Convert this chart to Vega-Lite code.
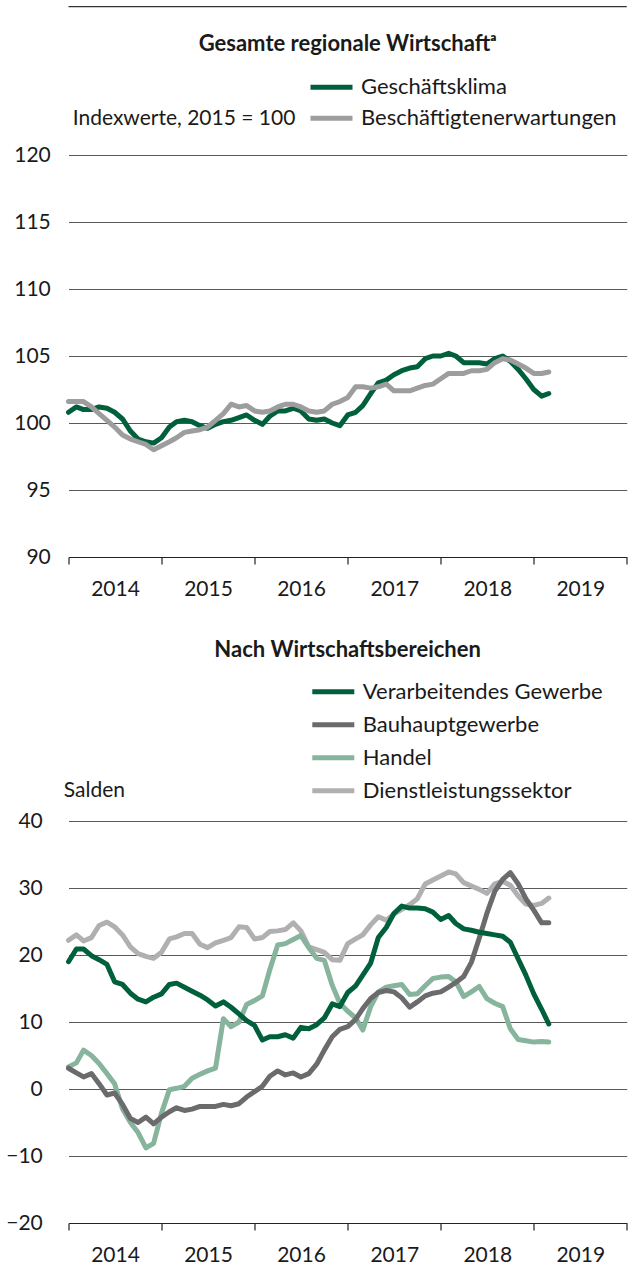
{
  "$schema": "https://vega.github.io/schema/vega-lite/v6.json",
  "background": "white",
  "padding": {"left": 5.5, "top": 6, "right": 0, "bottom": 0},
  "spacing": 40,
  "columns": 1,
  "align": "none",
  "resolve": {"scale": {"color": "independent"}, "legend": {"color": "independent"}},
  "config": {
    "font": "Lato",
    "view": {"stroke": null},
    "axis": {"labelFont": "Lato", "labelFontSize": 21, "labelColor": "#1a1a1a", "titleFont": "Lato", "titleFontSize": 21, "titleColor": "#1a1a1a", "titleFontWeight": "normal"},
    "legend": {"labelFont": "Lato", "labelFontSize": 22, "labelColor": "#1a1a1a", "labelLimit": 500, "symbolType": "stroke", "symbolStrokeWidth": 5, "symbolSize": 1764, "labelOffset": 6, "padding": 0, "rowPadding": 0},
    "title": {"font": "Lato", "fontSize": 22, "fontWeight": "bold", "color": "#1a1a1a"},
    "line": {"strokeWidth": 5, "strokeCap": "round", "strokeJoin": "round"}
  },
  "datasets": {
    "top": [
      {"date":"2014-01","series":"Geschäftsklima","value":100.8},{"date":"2014-02","series":"Geschäftsklima","value":101.2},{"date":"2014-03","series":"Geschäftsklima","value":101.0},{"date":"2014-04","series":"Geschäftsklima","value":101.0},{"date":"2014-05","series":"Geschäftsklima","value":101.2},{"date":"2014-06","series":"Geschäftsklima","value":101.1},{"date":"2014-07","series":"Geschäftsklima","value":100.8},{"date":"2014-08","series":"Geschäftsklima","value":100.3},{"date":"2014-09","series":"Geschäftsklima","value":99.4},{"date":"2014-10","series":"Geschäftsklima","value":98.8},{"date":"2014-11","series":"Geschäftsklima","value":98.6},{"date":"2014-12","series":"Geschäftsklima","value":98.5},
      {"date":"2015-01","series":"Geschäftsklima","value":98.9},{"date":"2015-02","series":"Geschäftsklima","value":99.7},{"date":"2015-03","series":"Geschäftsklima","value":100.1},{"date":"2015-04","series":"Geschäftsklima","value":100.2},{"date":"2015-05","series":"Geschäftsklima","value":100.1},{"date":"2015-06","series":"Geschäftsklima","value":99.8},{"date":"2015-07","series":"Geschäftsklima","value":99.6},{"date":"2015-08","series":"Geschäftsklima","value":99.9},{"date":"2015-09","series":"Geschäftsklima","value":100.1},{"date":"2015-10","series":"Geschäftsklima","value":100.2},{"date":"2015-11","series":"Geschäftsklima","value":100.4},{"date":"2015-12","series":"Geschäftsklima","value":100.6},
      {"date":"2016-01","series":"Geschäftsklima","value":100.2},{"date":"2016-02","series":"Geschäftsklima","value":99.9},{"date":"2016-03","series":"Geschäftsklima","value":100.5},{"date":"2016-04","series":"Geschäftsklima","value":100.9},{"date":"2016-05","series":"Geschäftsklima","value":100.9},{"date":"2016-06","series":"Geschäftsklima","value":101.1},{"date":"2016-07","series":"Geschäftsklima","value":100.9},{"date":"2016-08","series":"Geschäftsklima","value":100.3},{"date":"2016-09","series":"Geschäftsklima","value":100.2},{"date":"2016-10","series":"Geschäftsklima","value":100.3},{"date":"2016-11","series":"Geschäftsklima","value":100.0},{"date":"2016-12","series":"Geschäftsklima","value":99.8},
      {"date":"2017-01","series":"Geschäftsklima","value":100.6},{"date":"2017-02","series":"Geschäftsklima","value":100.8},{"date":"2017-03","series":"Geschäftsklima","value":101.3},{"date":"2017-04","series":"Geschäftsklima","value":102.2},{"date":"2017-05","series":"Geschäftsklima","value":103.0},{"date":"2017-06","series":"Geschäftsklima","value":103.2},{"date":"2017-07","series":"Geschäftsklima","value":103.6},{"date":"2017-08","series":"Geschäftsklima","value":103.9},{"date":"2017-09","series":"Geschäftsklima","value":104.1},{"date":"2017-10","series":"Geschäftsklima","value":104.2},{"date":"2017-11","series":"Geschäftsklima","value":104.8},{"date":"2017-12","series":"Geschäftsklima","value":105.0},
      {"date":"2018-01","series":"Geschäftsklima","value":105.0},{"date":"2018-02","series":"Geschäftsklima","value":105.2},{"date":"2018-03","series":"Geschäftsklima","value":105.0},{"date":"2018-04","series":"Geschäftsklima","value":104.5},{"date":"2018-05","series":"Geschäftsklima","value":104.5},{"date":"2018-06","series":"Geschäftsklima","value":104.5},{"date":"2018-07","series":"Geschäftsklima","value":104.4},{"date":"2018-08","series":"Geschäftsklima","value":104.8},{"date":"2018-09","series":"Geschäftsklima","value":105.0},{"date":"2018-10","series":"Geschäftsklima","value":104.6},{"date":"2018-11","series":"Geschäftsklima","value":104.0},{"date":"2018-12","series":"Geschäftsklima","value":103.3},
      {"date":"2019-01","series":"Geschäftsklima","value":102.5},{"date":"2019-02","series":"Geschäftsklima","value":102.0},{"date":"2019-03","series":"Geschäftsklima","value":102.2},
      {"date":"2014-01","series":"Beschäftigtenerwartungen","value":101.6},{"date":"2014-02","series":"Beschäftigtenerwartungen","value":101.6},{"date":"2014-03","series":"Beschäftigtenerwartungen","value":101.6},{"date":"2014-04","series":"Beschäftigtenerwartungen","value":101.2},{"date":"2014-05","series":"Beschäftigtenerwartungen","value":100.7},{"date":"2014-06","series":"Beschäftigtenerwartungen","value":100.2},{"date":"2014-07","series":"Beschäftigtenerwartungen","value":99.7},{"date":"2014-08","series":"Beschäftigtenerwartungen","value":99.1},{"date":"2014-09","series":"Beschäftigtenerwartungen","value":98.8},{"date":"2014-10","series":"Beschäftigtenerwartungen","value":98.6},{"date":"2014-11","series":"Beschäftigtenerwartungen","value":98.4},{"date":"2014-12","series":"Beschäftigtenerwartungen","value":98.0},
      {"date":"2015-01","series":"Beschäftigtenerwartungen","value":98.3},{"date":"2015-02","series":"Beschäftigtenerwartungen","value":98.6},{"date":"2015-03","series":"Beschäftigtenerwartungen","value":98.9},{"date":"2015-04","series":"Beschäftigtenerwartungen","value":99.3},{"date":"2015-05","series":"Beschäftigtenerwartungen","value":99.4},{"date":"2015-06","series":"Beschäftigtenerwartungen","value":99.5},{"date":"2015-07","series":"Beschäftigtenerwartungen","value":99.7},{"date":"2015-08","series":"Beschäftigtenerwartungen","value":100.2},{"date":"2015-09","series":"Beschäftigtenerwartungen","value":100.7},{"date":"2015-10","series":"Beschäftigtenerwartungen","value":101.4},{"date":"2015-11","series":"Beschäftigtenerwartungen","value":101.2},{"date":"2015-12","series":"Beschäftigtenerwartungen","value":101.3},
      {"date":"2016-01","series":"Beschäftigtenerwartungen","value":100.9},{"date":"2016-02","series":"Beschäftigtenerwartungen","value":100.8},{"date":"2016-03","series":"Beschäftigtenerwartungen","value":100.9},{"date":"2016-04","series":"Beschäftigtenerwartungen","value":101.2},{"date":"2016-05","series":"Beschäftigtenerwartungen","value":101.4},{"date":"2016-06","series":"Beschäftigtenerwartungen","value":101.4},{"date":"2016-07","series":"Beschäftigtenerwartungen","value":101.2},{"date":"2016-08","series":"Beschäftigtenerwartungen","value":100.9},{"date":"2016-09","series":"Beschäftigtenerwartungen","value":100.8},{"date":"2016-10","series":"Beschäftigtenerwartungen","value":100.9},{"date":"2016-11","series":"Beschäftigtenerwartungen","value":101.4},{"date":"2016-12","series":"Beschäftigtenerwartungen","value":101.6},
      {"date":"2017-01","series":"Beschäftigtenerwartungen","value":101.9},{"date":"2017-02","series":"Beschäftigtenerwartungen","value":102.7},{"date":"2017-03","series":"Beschäftigtenerwartungen","value":102.7},{"date":"2017-04","series":"Beschäftigtenerwartungen","value":102.6},{"date":"2017-05","series":"Beschäftigtenerwartungen","value":102.7},{"date":"2017-06","series":"Beschäftigtenerwartungen","value":102.9},{"date":"2017-07","series":"Beschäftigtenerwartungen","value":102.4},{"date":"2017-08","series":"Beschäftigtenerwartungen","value":102.4},{"date":"2017-09","series":"Beschäftigtenerwartungen","value":102.4},{"date":"2017-10","series":"Beschäftigtenerwartungen","value":102.6},{"date":"2017-11","series":"Beschäftigtenerwartungen","value":102.8},{"date":"2017-12","series":"Beschäftigtenerwartungen","value":102.9},
      {"date":"2018-01","series":"Beschäftigtenerwartungen","value":103.3},{"date":"2018-02","series":"Beschäftigtenerwartungen","value":103.7},{"date":"2018-03","series":"Beschäftigtenerwartungen","value":103.7},{"date":"2018-04","series":"Beschäftigtenerwartungen","value":103.7},{"date":"2018-05","series":"Beschäftigtenerwartungen","value":103.9},{"date":"2018-06","series":"Beschäftigtenerwartungen","value":103.9},{"date":"2018-07","series":"Beschäftigtenerwartungen","value":104.0},{"date":"2018-08","series":"Beschäftigtenerwartungen","value":104.5},{"date":"2018-09","series":"Beschäftigtenerwartungen","value":104.8},{"date":"2018-10","series":"Beschäftigtenerwartungen","value":104.7},{"date":"2018-11","series":"Beschäftigtenerwartungen","value":104.4},{"date":"2018-12","series":"Beschäftigtenerwartungen","value":104.1},
      {"date":"2019-01","series":"Beschäftigtenerwartungen","value":103.7},{"date":"2019-02","series":"Beschäftigtenerwartungen","value":103.7},{"date":"2019-03","series":"Beschäftigtenerwartungen","value":103.8}
    ],
    "bottom": [
      {"date":"2014-01","series":"Dienstleistungssektor","value":22.2},{"date":"2014-02","series":"Dienstleistungssektor","value":23.0},{"date":"2014-03","series":"Dienstleistungssektor","value":22.1},{"date":"2014-04","series":"Dienstleistungssektor","value":22.6},{"date":"2014-05","series":"Dienstleistungssektor","value":24.4},{"date":"2014-06","series":"Dienstleistungssektor","value":24.9},{"date":"2014-07","series":"Dienstleistungssektor","value":24.2},{"date":"2014-08","series":"Dienstleistungssektor","value":23.0},{"date":"2014-09","series":"Dienstleistungssektor","value":21.2},{"date":"2014-10","series":"Dienstleistungssektor","value":20.2},{"date":"2014-11","series":"Dienstleistungssektor","value":19.8},{"date":"2014-12","series":"Dienstleistungssektor","value":19.5},
      {"date":"2015-01","series":"Dienstleistungssektor","value":20.4},{"date":"2015-02","series":"Dienstleistungssektor","value":22.4},{"date":"2015-03","series":"Dienstleistungssektor","value":22.7},{"date":"2015-04","series":"Dienstleistungssektor","value":23.2},{"date":"2015-05","series":"Dienstleistungssektor","value":23.2},{"date":"2015-06","series":"Dienstleistungssektor","value":21.6},{"date":"2015-07","series":"Dienstleistungssektor","value":21.1},{"date":"2015-08","series":"Dienstleistungssektor","value":21.8},{"date":"2015-09","series":"Dienstleistungssektor","value":22.2},{"date":"2015-10","series":"Dienstleistungssektor","value":22.6},{"date":"2015-11","series":"Dienstleistungssektor","value":24.2},{"date":"2015-12","series":"Dienstleistungssektor","value":24.1},
      {"date":"2016-01","series":"Dienstleistungssektor","value":22.4},{"date":"2016-02","series":"Dienstleistungssektor","value":22.6},{"date":"2016-03","series":"Dienstleistungssektor","value":23.5},{"date":"2016-04","series":"Dienstleistungssektor","value":23.6},{"date":"2016-05","series":"Dienstleistungssektor","value":23.8},{"date":"2016-06","series":"Dienstleistungssektor","value":24.8},{"date":"2016-07","series":"Dienstleistungssektor","value":23.6},{"date":"2016-08","series":"Dienstleistungssektor","value":21.2},{"date":"2016-09","series":"Dienstleistungssektor","value":20.8},{"date":"2016-10","series":"Dienstleistungssektor","value":20.4},{"date":"2016-11","series":"Dienstleistungssektor","value":19.3},{"date":"2016-12","series":"Dienstleistungssektor","value":19.2},
      {"date":"2017-01","series":"Dienstleistungssektor","value":21.7},{"date":"2017-02","series":"Dienstleistungssektor","value":22.4},{"date":"2017-03","series":"Dienstleistungssektor","value":23.0},{"date":"2017-04","series":"Dienstleistungssektor","value":24.5},{"date":"2017-05","series":"Dienstleistungssektor","value":25.7},{"date":"2017-06","series":"Dienstleistungssektor","value":25.2},{"date":"2017-07","series":"Dienstleistungssektor","value":26.1},{"date":"2017-08","series":"Dienstleistungssektor","value":26.8},{"date":"2017-09","series":"Dienstleistungssektor","value":27.5},{"date":"2017-10","series":"Dienstleistungssektor","value":28.4},{"date":"2017-11","series":"Dienstleistungssektor","value":30.6},{"date":"2017-12","series":"Dienstleistungssektor","value":31.2},
      {"date":"2018-01","series":"Dienstleistungssektor","value":31.8},{"date":"2018-02","series":"Dienstleistungssektor","value":32.4},{"date":"2018-03","series":"Dienstleistungssektor","value":32.1},{"date":"2018-04","series":"Dienstleistungssektor","value":30.8},{"date":"2018-05","series":"Dienstleistungssektor","value":30.3},{"date":"2018-06","series":"Dienstleistungssektor","value":29.8},{"date":"2018-07","series":"Dienstleistungssektor","value":29.2},{"date":"2018-08","series":"Dienstleistungssektor","value":30.6},{"date":"2018-09","series":"Dienstleistungssektor","value":31.0},{"date":"2018-10","series":"Dienstleistungssektor","value":30.4},{"date":"2018-11","series":"Dienstleistungssektor","value":28.8},{"date":"2018-12","series":"Dienstleistungssektor","value":27.6},
      {"date":"2019-01","series":"Dienstleistungssektor","value":27.4},{"date":"2019-02","series":"Dienstleistungssektor","value":27.7},{"date":"2019-03","series":"Dienstleistungssektor","value":28.5},
      {"date":"2014-01","series":"Handel","value":3.3},{"date":"2014-02","series":"Handel","value":3.9},{"date":"2014-03","series":"Handel","value":5.8},{"date":"2014-04","series":"Handel","value":5.0},{"date":"2014-05","series":"Handel","value":3.8},{"date":"2014-06","series":"Handel","value":2.3},{"date":"2014-07","series":"Handel","value":0.8},{"date":"2014-08","series":"Handel","value":-3.0},{"date":"2014-09","series":"Handel","value":-5.0},{"date":"2014-10","series":"Handel","value":-6.5},{"date":"2014-11","series":"Handel","value":-8.8},{"date":"2014-12","series":"Handel","value":-8.1},
      {"date":"2015-01","series":"Handel","value":-3.6},{"date":"2015-02","series":"Handel","value":-0.1},{"date":"2015-03","series":"Handel","value":0.1},{"date":"2015-04","series":"Handel","value":0.4},{"date":"2015-05","series":"Handel","value":1.6},{"date":"2015-06","series":"Handel","value":2.2},{"date":"2015-07","series":"Handel","value":2.7},{"date":"2015-08","series":"Handel","value":3.1},{"date":"2015-09","series":"Handel","value":10.5},{"date":"2015-10","series":"Handel","value":9.3},{"date":"2015-11","series":"Handel","value":10.0},{"date":"2015-12","series":"Handel","value":12.6},
      {"date":"2016-01","series":"Handel","value":13.2},{"date":"2016-02","series":"Handel","value":13.9},{"date":"2016-03","series":"Handel","value":17.8},{"date":"2016-04","series":"Handel","value":21.5},{"date":"2016-05","series":"Handel","value":21.7},{"date":"2016-06","series":"Handel","value":22.3},{"date":"2016-07","series":"Handel","value":22.9},{"date":"2016-08","series":"Handel","value":21.1},{"date":"2016-09","series":"Handel","value":19.5},{"date":"2016-10","series":"Handel","value":19.2},{"date":"2016-11","series":"Handel","value":15.5},{"date":"2016-12","series":"Handel","value":12.8},
      {"date":"2017-01","series":"Handel","value":11.6},{"date":"2017-02","series":"Handel","value":10.6},{"date":"2017-03","series":"Handel","value":8.8},{"date":"2017-04","series":"Handel","value":12.3},{"date":"2017-05","series":"Handel","value":14.5},{"date":"2017-06","series":"Handel","value":15.2},{"date":"2017-07","series":"Handel","value":15.4},{"date":"2017-08","series":"Handel","value":15.6},{"date":"2017-09","series":"Handel","value":14.1},{"date":"2017-10","series":"Handel","value":14.2},{"date":"2017-11","series":"Handel","value":15.4},{"date":"2017-12","series":"Handel","value":16.5},
      {"date":"2018-01","series":"Handel","value":16.7},{"date":"2018-02","series":"Handel","value":16.8},{"date":"2018-03","series":"Handel","value":16.0},{"date":"2018-04","series":"Handel","value":13.8},{"date":"2018-05","series":"Handel","value":14.5},{"date":"2018-06","series":"Handel","value":15.3},{"date":"2018-07","series":"Handel","value":13.5},{"date":"2018-08","series":"Handel","value":12.8},{"date":"2018-09","series":"Handel","value":12.3},{"date":"2018-10","series":"Handel","value":9.0},{"date":"2018-11","series":"Handel","value":7.4},{"date":"2018-12","series":"Handel","value":7.2},
      {"date":"2019-01","series":"Handel","value":7.0},{"date":"2019-02","series":"Handel","value":7.1},{"date":"2019-03","series":"Handel","value":7.0},
      {"date":"2014-01","series":"Bauhauptgewerbe","value":3.1},{"date":"2014-02","series":"Bauhauptgewerbe","value":2.4},{"date":"2014-03","series":"Bauhauptgewerbe","value":1.8},{"date":"2014-04","series":"Bauhauptgewerbe","value":2.3},{"date":"2014-05","series":"Bauhauptgewerbe","value":0.8},{"date":"2014-06","series":"Bauhauptgewerbe","value":-0.9},{"date":"2014-07","series":"Bauhauptgewerbe","value":-0.6},{"date":"2014-08","series":"Bauhauptgewerbe","value":-2.3},{"date":"2014-09","series":"Bauhauptgewerbe","value":-4.4},{"date":"2014-10","series":"Bauhauptgewerbe","value":-5.0},{"date":"2014-11","series":"Bauhauptgewerbe","value":-4.2},{"date":"2014-12","series":"Bauhauptgewerbe","value":-5.2},
      {"date":"2015-01","series":"Bauhauptgewerbe","value":-4.2},{"date":"2015-02","series":"Bauhauptgewerbe","value":-3.4},{"date":"2015-03","series":"Bauhauptgewerbe","value":-2.8},{"date":"2015-04","series":"Bauhauptgewerbe","value":-3.2},{"date":"2015-05","series":"Bauhauptgewerbe","value":-3.0},{"date":"2015-06","series":"Bauhauptgewerbe","value":-2.6},{"date":"2015-07","series":"Bauhauptgewerbe","value":-2.6},{"date":"2015-08","series":"Bauhauptgewerbe","value":-2.6},{"date":"2015-09","series":"Bauhauptgewerbe","value":-2.3},{"date":"2015-10","series":"Bauhauptgewerbe","value":-2.5},{"date":"2015-11","series":"Bauhauptgewerbe","value":-2.2},{"date":"2015-12","series":"Bauhauptgewerbe","value":-1.2},
      {"date":"2016-01","series":"Bauhauptgewerbe","value":-0.4},{"date":"2016-02","series":"Bauhauptgewerbe","value":0.4},{"date":"2016-03","series":"Bauhauptgewerbe","value":1.9},{"date":"2016-04","series":"Bauhauptgewerbe","value":2.7},{"date":"2016-05","series":"Bauhauptgewerbe","value":2.1},{"date":"2016-06","series":"Bauhauptgewerbe","value":2.4},{"date":"2016-07","series":"Bauhauptgewerbe","value":1.8},{"date":"2016-08","series":"Bauhauptgewerbe","value":2.3},{"date":"2016-09","series":"Bauhauptgewerbe","value":3.7},{"date":"2016-10","series":"Bauhauptgewerbe","value":5.8},{"date":"2016-11","series":"Bauhauptgewerbe","value":7.8},{"date":"2016-12","series":"Bauhauptgewerbe","value":8.9},
      {"date":"2017-01","series":"Bauhauptgewerbe","value":9.3},{"date":"2017-02","series":"Bauhauptgewerbe","value":10.4},{"date":"2017-03","series":"Bauhauptgewerbe","value":12.0},{"date":"2017-04","series":"Bauhauptgewerbe","value":13.5},{"date":"2017-05","series":"Bauhauptgewerbe","value":14.4},{"date":"2017-06","series":"Bauhauptgewerbe","value":14.7},{"date":"2017-07","series":"Bauhauptgewerbe","value":14.5},{"date":"2017-08","series":"Bauhauptgewerbe","value":13.6},{"date":"2017-09","series":"Bauhauptgewerbe","value":12.2},{"date":"2017-10","series":"Bauhauptgewerbe","value":13.0},{"date":"2017-11","series":"Bauhauptgewerbe","value":13.9},{"date":"2017-12","series":"Bauhauptgewerbe","value":14.3},
      {"date":"2018-01","series":"Bauhauptgewerbe","value":14.5},{"date":"2018-02","series":"Bauhauptgewerbe","value":15.2},{"date":"2018-03","series":"Bauhauptgewerbe","value":15.9},{"date":"2018-04","series":"Bauhauptgewerbe","value":16.8},{"date":"2018-05","series":"Bauhauptgewerbe","value":18.9},{"date":"2018-06","series":"Bauhauptgewerbe","value":22.5},{"date":"2018-07","series":"Bauhauptgewerbe","value":26.2},{"date":"2018-08","series":"Bauhauptgewerbe","value":29.5},{"date":"2018-09","series":"Bauhauptgewerbe","value":31.3},{"date":"2018-10","series":"Bauhauptgewerbe","value":32.3},{"date":"2018-11","series":"Bauhauptgewerbe","value":30.6},{"date":"2018-12","series":"Bauhauptgewerbe","value":28.4},
      {"date":"2019-01","series":"Bauhauptgewerbe","value":26.7},{"date":"2019-02","series":"Bauhauptgewerbe","value":24.8},{"date":"2019-03","series":"Bauhauptgewerbe","value":24.8},
      {"date":"2014-01","series":"Verarbeitendes Gewerbe","value":19.0},{"date":"2014-02","series":"Verarbeitendes Gewerbe","value":20.9},{"date":"2014-03","series":"Verarbeitendes Gewerbe","value":20.9},{"date":"2014-04","series":"Verarbeitendes Gewerbe","value":19.9},{"date":"2014-05","series":"Verarbeitendes Gewerbe","value":19.3},{"date":"2014-06","series":"Verarbeitendes Gewerbe","value":18.6},{"date":"2014-07","series":"Verarbeitendes Gewerbe","value":16.0},{"date":"2014-08","series":"Verarbeitendes Gewerbe","value":15.6},{"date":"2014-09","series":"Verarbeitendes Gewerbe","value":14.3},{"date":"2014-10","series":"Verarbeitendes Gewerbe","value":13.4},{"date":"2014-11","series":"Verarbeitendes Gewerbe","value":13.0},{"date":"2014-12","series":"Verarbeitendes Gewerbe","value":13.7},
      {"date":"2015-01","series":"Verarbeitendes Gewerbe","value":14.2},{"date":"2015-02","series":"Verarbeitendes Gewerbe","value":15.6},{"date":"2015-03","series":"Verarbeitendes Gewerbe","value":15.8},{"date":"2015-04","series":"Verarbeitendes Gewerbe","value":15.2},{"date":"2015-05","series":"Verarbeitendes Gewerbe","value":14.6},{"date":"2015-06","series":"Verarbeitendes Gewerbe","value":14.0},{"date":"2015-07","series":"Verarbeitendes Gewerbe","value":13.3},{"date":"2015-08","series":"Verarbeitendes Gewerbe","value":12.4},{"date":"2015-09","series":"Verarbeitendes Gewerbe","value":13.0},{"date":"2015-10","series":"Verarbeitendes Gewerbe","value":12.2},{"date":"2015-11","series":"Verarbeitendes Gewerbe","value":11.2},{"date":"2015-12","series":"Verarbeitendes Gewerbe","value":10.2},
      {"date":"2016-01","series":"Verarbeitendes Gewerbe","value":9.5},{"date":"2016-02","series":"Verarbeitendes Gewerbe","value":7.3},{"date":"2016-03","series":"Verarbeitendes Gewerbe","value":7.8},{"date":"2016-04","series":"Verarbeitendes Gewerbe","value":7.8},{"date":"2016-05","series":"Verarbeitendes Gewerbe","value":8.1},{"date":"2016-06","series":"Verarbeitendes Gewerbe","value":7.6},{"date":"2016-07","series":"Verarbeitendes Gewerbe","value":9.2},{"date":"2016-08","series":"Verarbeitendes Gewerbe","value":9.0},{"date":"2016-09","series":"Verarbeitendes Gewerbe","value":9.6},{"date":"2016-10","series":"Verarbeitendes Gewerbe","value":10.6},{"date":"2016-11","series":"Verarbeitendes Gewerbe","value":12.7},{"date":"2016-12","series":"Verarbeitendes Gewerbe","value":12.3},
      {"date":"2017-01","series":"Verarbeitendes Gewerbe","value":14.4},{"date":"2017-02","series":"Verarbeitendes Gewerbe","value":15.4},{"date":"2017-03","series":"Verarbeitendes Gewerbe","value":17.0},{"date":"2017-04","series":"Verarbeitendes Gewerbe","value":18.8},{"date":"2017-05","series":"Verarbeitendes Gewerbe","value":22.6},{"date":"2017-06","series":"Verarbeitendes Gewerbe","value":24.1},{"date":"2017-07","series":"Verarbeitendes Gewerbe","value":26.2},{"date":"2017-08","series":"Verarbeitendes Gewerbe","value":27.3},{"date":"2017-09","series":"Verarbeitendes Gewerbe","value":27.0},{"date":"2017-10","series":"Verarbeitendes Gewerbe","value":27.0},{"date":"2017-11","series":"Verarbeitendes Gewerbe","value":26.9},{"date":"2017-12","series":"Verarbeitendes Gewerbe","value":26.4},
      {"date":"2018-01","series":"Verarbeitendes Gewerbe","value":25.3},{"date":"2018-02","series":"Verarbeitendes Gewerbe","value":25.9},{"date":"2018-03","series":"Verarbeitendes Gewerbe","value":24.7},{"date":"2018-04","series":"Verarbeitendes Gewerbe","value":23.9},{"date":"2018-05","series":"Verarbeitendes Gewerbe","value":23.7},{"date":"2018-06","series":"Verarbeitendes Gewerbe","value":23.4},{"date":"2018-07","series":"Verarbeitendes Gewerbe","value":23.2},{"date":"2018-08","series":"Verarbeitendes Gewerbe","value":23.0},{"date":"2018-09","series":"Verarbeitendes Gewerbe","value":22.8},{"date":"2018-10","series":"Verarbeitendes Gewerbe","value":21.9},{"date":"2018-11","series":"Verarbeitendes Gewerbe","value":19.4},{"date":"2018-12","series":"Verarbeitendes Gewerbe","value":17.0},
      {"date":"2019-01","series":"Verarbeitendes Gewerbe","value":14.2},{"date":"2019-02","series":"Verarbeitendes Gewerbe","value":11.9},{"date":"2019-03","series":"Verarbeitendes Gewerbe","value":9.7}
    ]
  },
  "concat": [
    {
      "width": 558.25,
      "height": 402,
      "title": {"text": "Gesamte regionale Wirtschaftᵃ", "anchor": "middle", "frame": "group", "offset": 0, "dy": 66.6, "baseline": "alphabetic"},
      "layer": [
        {
          "data": {"name": "top"},
          "mark": "line",
          "encoding": {
            "x": {"field": "date", "type": "temporal",
              "scale": {"type": "utc", "domain": [{"year": 2014, "month": 1, "date": 1, "utc": true}, {"year": 2020, "month": 1, "date": 1, "utc": true}]},
              "axis": {"values": [{"year": 2014, "month": 1, "date": 1, "utc": true}, {"year": 2015, "month": 1, "date": 1, "utc": true}, {"year": 2016, "month": 1, "date": 1, "utc": true}, {"year": 2017, "month": 1, "date": 1, "utc": true}, {"year": 2018, "month": 1, "date": 1, "utc": true}, {"year": 2019, "month": 1, "date": 1, "utc": true}, {"year": 2020, "month": 1, "date": 1, "utc": true}],
                "labelExpr": "utcyear(datum.value) < 2020 ? utcFormat(datum.value, '%Y') : ''",
                "labelOffset": 46.52, "labelPadding": 14, "labelAlign": "center", "labelBaseline": "top",
                "tickSize": 7, "tickColor": "#222222", "tickWidth": 1.2, "domainColor": "#222222", "domainWidth": 1.2,
                "grid": false, "title": null, "labelFlush": false, "labelOverlap": false, "labelBound": false}},
            "y": {"field": "value", "type": "quantitative",
              "scale": {"domain": [90, 120], "nice": false, "zero": false},
              "axis": {"values": [90, 95, 100, 105, 110, 115, 120], "domain": false, "ticks": false, "grid": true, "gridColor": "#5a5a5a", "gridWidth": 1,
                "labelPadding": 18.25, "title": "Indexwerte, 2015 = 100", "titleAngle": 0, "titleAlign": "left", "titleBaseline": "middle", "titleX": 3.75, "titleY": -36.7}},
            "color": {"field": "series", "type": "nominal",
              "scale": {"domain": ["Geschäftsklima", "Beschäftigtenerwartungen"], "range": ["#00603C", "#9D9D9F"]},
              "legend": {"title": null, "orient": "none", "legendX": 239.5, "legendY": -83.2, "clipHeight": 31, "direction": "vertical"}}
          }
        },
        {
          "data": {"values": [{}]},
          "mark": {"type": "rule", "color": "#333333", "strokeWidth": 1.2},
          "encoding": {"y": {"datum": 131.07, "type": "quantitative"}}
        }
      ]
    },
    {
      "width": 558.25,
      "height": 402,
      "title": {"text": "Nach Wirtschaftsbereichen", "anchor": "middle", "frame": "group", "offset": -3.7, "baseline": "alphabetic"},
      "data": {"name": "bottom"},
      "mark": "line",
      "encoding": {
        "x": {"field": "date", "type": "temporal",
          "scale": {"type": "utc", "domain": [{"year": 2014, "month": 1, "date": 1, "utc": true}, {"year": 2020, "month": 1, "date": 1, "utc": true}]},
          "axis": {"values": [{"year": 2014, "month": 1, "date": 1, "utc": true}, {"year": 2015, "month": 1, "date": 1, "utc": true}, {"year": 2016, "month": 1, "date": 1, "utc": true}, {"year": 2017, "month": 1, "date": 1, "utc": true}, {"year": 2018, "month": 1, "date": 1, "utc": true}, {"year": 2019, "month": 1, "date": 1, "utc": true}, {"year": 2020, "month": 1, "date": 1, "utc": true}],
            "labelExpr": "utcyear(datum.value) < 2020 ? utcFormat(datum.value, '%Y') : ''",
            "labelOffset": 46.52, "labelPadding": 14, "labelAlign": "center", "labelBaseline": "top",
            "tickSize": 7, "tickColor": "#222222", "tickWidth": 1.2, "domainColor": "#222222", "domainWidth": 1.2,
            "grid": false, "title": null, "labelFlush": false, "labelOverlap": false, "labelBound": false}},
        "y": {"field": "value", "type": "quantitative",
          "scale": {"domain": [-20, 40], "nice": false, "zero": false},
          "axis": {"values": [-20, -10, 0, 10, 20, 30, 40], "domain": false, "ticks": false, "grid": true, "gridColor": "#5a5a5a", "gridWidth": 1,
            "labelPadding": 26.25, "title": "Salden", "titleAngle": 0, "titleAlign": "left", "titleBaseline": "middle", "titleX": -5.25, "titleY": -31}},
        "color": {"field": "series", "type": "nominal",
          "scale": {"domain": ["Verarbeitendes Gewerbe", "Bauhauptgewerbe", "Handel", "Dienstleistungssektor"], "range": ["#00603C", "#6B6B6D", "#87B49C", "#B0B0B2"]},
          "legend": {"title": null, "orient": "none", "legendX": 241.3, "legendY": -145.7, "clipHeight": 32.8, "direction": "vertical"}}
      }
    }
  ]
}
